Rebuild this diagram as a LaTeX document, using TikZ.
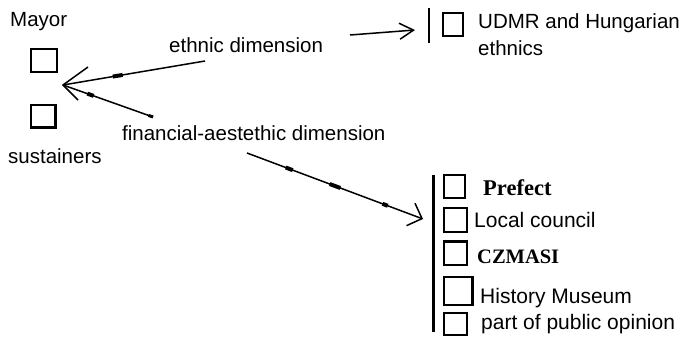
\documentclass[tikz,border=0pt]{standalone}
\usepackage{fontspec}
\setmainfont{Liberation Sans}
\newfontfamily\serifb{Liberation Serif}
\usetikzlibrary{arrows.meta,calc}
\begin{document}
\begin{tikzpicture}[x=1pt,y=-1pt,
  lbl/.style={anchor=base west,inner sep=0pt,font=\fontsize{20.5}{24}\selectfont},
  itm/.style={anchor=base west,inner sep=0pt,font=\fontsize{21}{24}\selectfont},
  sitm/.style={anchor=base west,inner sep=0pt,font=\serifb\bfseries\fontsize{20.5}{26}\selectfont},
  box/.style={draw,line width=1.3pt,inner sep=0pt},
  con/.style={line width=1.5pt},
  blob/.style={line width=4pt},
  barb/.style={-{Straight Barb[length=#1,width=16pt,line width=1.5pt]}},
]
\useasboundingbox[fill=white] (0,0) rectangle (680,340);
% left group
\node[lbl] (mayor) at (10,27) {Mayor};
\node[box,minimum width=26pt,minimum height=23pt] (m1) at (44,60.5) {};
\node[box,minimum width=24pt,minimum height=22pt] (m2) at (43,116) {};
\draw[line width=2pt] (m2.south west) -- (m2.south east) -- (m2.north east);
\node[lbl] (sust) at (8,163) {sustainers};
\node[lbl] (eth) at (169,52) {ethnic dimension};
\node[lbl] (fin) at (122,140) {financial-aestethic dimension};
% arrows converging on the left
\coordinate (tip) at (63,85);
\coordinate (es) at (205,61);
\coordinate (fs) at (153,117);
\draw[con] (es) -- (tip);
\draw[con] (fs) -- (tip);
\draw[con] ($(tip)+(25,-18)$) -- (tip) -- ($(tip)+(15,15)$);
\draw[blob] ($(es)!0.58!(tip)$) -- ($(es)!0.65!(tip)$);
\draw[blob] ($(fs)!0.66!(tip)$) -- ($(fs)!0.73!(tip)$);
\draw[line width=3pt] ($(fs)!0.0!(tip)$) -- ($(fs)!0.05!(tip)$);
% upper right group
\coordinate (ua) at (350,35);
\coordinate (ut) at (415,30);
\draw[con,barb=14pt] (ua) -- (ut);
\coordinate (ub1) at (429,8);
\coordinate (ub2) at (429,43);
\draw[line width=1.5pt] (ub1) -- (ub2);
\node[box,minimum width=20pt,minimum height=23pt] (u1) at (453,24.5) {};
\node[lbl] (udmr) at (478,28) {UDMR and Hungarian};
\node[lbl] (ethn) at (478,55) {ethnics};
% lower arrow
\coordinate (la) at (247,153);
\coordinate (lt) at (423,219);
\draw[con,-{Straight Barb[length=12pt,width=24pt,line width=1.5pt]}] (la) -- (lt);
\draw[blob] ($(la)!0.22!(lt)$) -- ($(la)!0.26!(lt)$);
\draw[blob] ($(la)!0.47!(lt)$) -- ($(la)!0.53!(lt)$);
\draw[blob] ($(la)!0.77!(lt)$) -- ($(la)!0.80!(lt)$);
% lower right list
\coordinate (lb1) at (433,175);
\coordinate (lb2) at (433,332);
\draw[line width=3pt] (lb1) -- (lb2);
\node[box,minimum width=21pt,minimum height=23pt] (r1) at (454.5,186.5) {};
\node[box,minimum width=23pt,minimum height=24pt] (r2) at (455.5,220) {};
\node[box,minimum width=23pt,minimum height=23pt] (r3) at (455.5,253.5) {};
\draw[line width=2.2pt] (r3.north west) -- (r3.north east);
\node[box,minimum width=28pt,minimum height=28pt] (r4) at (458,291) {};
\draw[line width=2.4pt] (r4.north east) -- (r4.south east);
\node[box,minimum width=23pt,minimum height=22pt] (r5) at (455.5,324) {};
\node[sitm,font=\serifb\bfseries\fontsize{22.5}{26}\selectfont] (t1) at (483,195) {Prefect};
\node[itm] (t2) at (474,227) {Local council};
\node[sitm] (t3) at (477,263) {CZMASI};
\node[itm] (t4) at (480,303) {History Museum};
\node[itm] (t5) at (481,329) {part of public opinion};
\end{tikzpicture}
\end{document}
